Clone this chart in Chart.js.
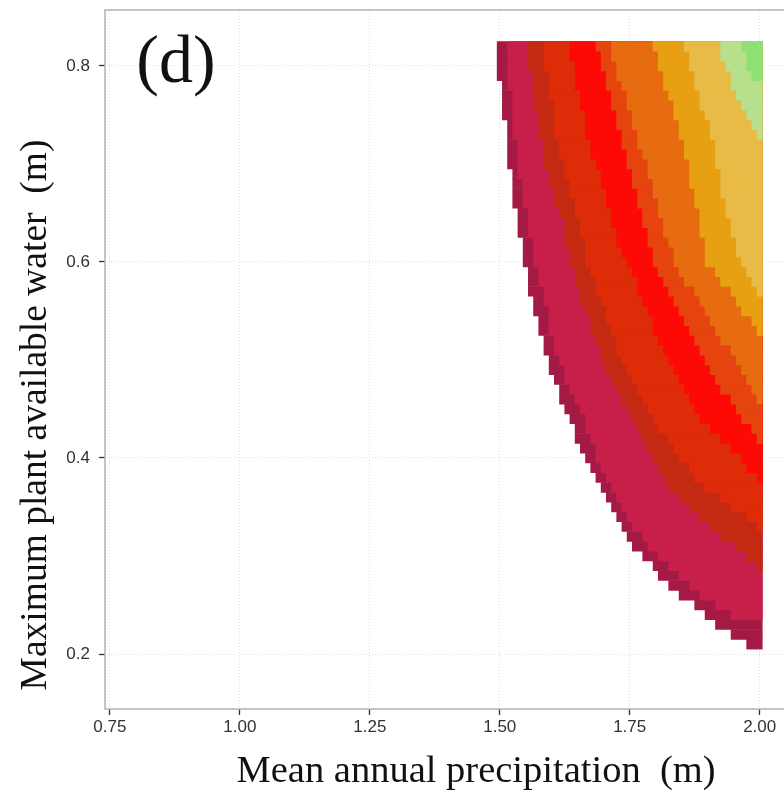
<!DOCTYPE html>
<html>
<head>
<meta charset="utf-8">
<title>Mean annual precipitation vs plant available water</title>
<script src="https://cdn.jsdelivr.net/npm/chart.js@4.4.1/dist/chart.umd.min.js"></script>
<style>
  html, body { margin: 0; padding: 0; background: #fff; overflow: hidden; }
  #wrap { width: 860px; height: 802px; }
</style>
</head>
<body>
<div id="wrap"><canvas id="panel" width="860" height="802"></canvas></div>
<script>
'use strict';

// raster rows, plant available water (m), top row first
const rowsY = [0.82, 0.81, 0.80, 0.79, 0.78, 0.77, 0.76, 0.75, 0.74, 0.73,
  0.72, 0.71, 0.70, 0.69, 0.68, 0.67, 0.66, 0.65, 0.64, 0.63,
  0.62, 0.61, 0.60, 0.59, 0.58, 0.57, 0.56, 0.55, 0.54, 0.53,
  0.52, 0.51, 0.50, 0.49, 0.48, 0.47, 0.46, 0.45, 0.44, 0.43,
  0.42, 0.41, 0.40, 0.39, 0.38, 0.37, 0.36, 0.35, 0.34, 0.33,
  0.32, 0.31, 0.30, 0.29, 0.28, 0.27, 0.26, 0.25, 0.24, 0.23,
  0.22, 0.21];

const xTicks = [0.75, 1.00, 1.25, 1.50, 1.75, 2.00];
const yTicks = [0.2, 0.4, 0.6, 0.8];

// first precipitation cell (m) of each colour class, row by row from the top.
// a shorter list means the class has run off the right edge below that row
const startDarkCrimson = [1.50, 1.50, 1.50, 1.50, 1.51, 1.51, 1.51, 1.51, 1.52, 1.52,
  1.52, 1.52, 1.52, 1.53, 1.53, 1.53, 1.53, 1.54, 1.54, 1.54,
  1.55, 1.55, 1.55, 1.56, 1.56, 1.56, 1.57, 1.57, 1.58, 1.58,
  1.59, 1.59, 1.60, 1.60, 1.61, 1.62, 1.62, 1.63, 1.64, 1.65,
  1.65, 1.66, 1.67, 1.68, 1.69, 1.70, 1.71, 1.72, 1.73, 1.74,
  1.75, 1.76, 1.78, 1.80, 1.81, 1.83, 1.85, 1.88, 1.90, 1.92,
  1.95, 1.98];
const startCrimson = [1.52, 1.52, 1.52, 1.52, 1.52, 1.53, 1.53, 1.53, 1.53, 1.53,
  1.54, 1.54, 1.54, 1.54, 1.55, 1.55, 1.55, 1.56, 1.56, 1.56,
  1.57, 1.57, 1.57, 1.58, 1.58, 1.59, 1.59, 1.60, 1.60, 1.60,
  1.61, 1.61, 1.62, 1.63, 1.63, 1.64, 1.65, 1.66, 1.67, 1.67,
  1.68, 1.69, 1.69, 1.70, 1.71, 1.72, 1.73, 1.74, 1.75, 1.76,
  1.78, 1.79, 1.81, 1.83, 1.85, 1.87, 1.89, 1.92, 1.95];
const startDarkRed = [1.56, 1.56, 1.56, 1.57, 1.57, 1.57, 1.57, 1.58, 1.58, 1.58,
  1.59, 1.59, 1.59, 1.60, 1.60, 1.61, 1.61, 1.62, 1.63, 1.63,
  1.63, 1.64, 1.64, 1.65, 1.65, 1.66, 1.66, 1.67, 1.68, 1.68,
  1.69, 1.70, 1.70, 1.71, 1.72, 1.73, 1.74, 1.75, 1.76, 1.77,
  1.78, 1.79, 1.80, 1.81, 1.82, 1.83, 1.85, 1.87, 1.89, 1.91,
  1.93, 1.96, 1.98, 2.00];
const startScarlet = [1.59, 1.59, 1.59, 1.60, 1.60, 1.60, 1.61, 1.61, 1.61, 1.61,
  1.62, 1.62, 1.63, 1.63, 1.64, 1.64, 1.65, 1.65, 1.66, 1.66,
  1.67, 1.67, 1.67, 1.68, 1.69, 1.69, 1.70, 1.71, 1.71, 1.72,
  1.73, 1.73, 1.74, 1.75, 1.76, 1.77, 1.78, 1.79, 1.80, 1.81,
  1.83, 1.84, 1.85, 1.87, 1.88, 1.90, 1.93, 1.95, 1.98, 2.00];
const startRed = [1.64, 1.64, 1.65, 1.65, 1.65, 1.66, 1.66, 1.67, 1.67, 1.67,
  1.68, 1.68, 1.69, 1.70, 1.70, 1.71, 1.71, 1.72, 1.72, 1.73,
  1.73, 1.74, 1.75, 1.76, 1.77, 1.77, 1.78, 1.79, 1.80, 1.80,
  1.81, 1.82, 1.83, 1.84, 1.85, 1.86, 1.87, 1.88, 1.89, 1.91,
  1.93, 1.95, 1.97, 1.98, 2.00];
const startVermilion = [1.69, 1.70, 1.70, 1.71, 1.71, 1.72, 1.72, 1.73, 1.73, 1.74,
  1.74, 1.75, 1.75, 1.76, 1.76, 1.77, 1.77, 1.78, 1.78, 1.79,
  1.79, 1.80, 1.80, 1.81, 1.82, 1.83, 1.84, 1.85, 1.86, 1.87,
  1.88, 1.89, 1.90, 1.91, 1.92, 1.93, 1.95, 1.96, 1.97, 1.99,
  2.00];
const startOrange = [1.72, 1.72, 1.73, 1.73, 1.74, 1.75, 1.75, 1.76, 1.76, 1.77,
  1.77, 1.78, 1.79, 1.79, 1.80, 1.80, 1.81, 1.81, 1.82, 1.82,
  1.83, 1.84, 1.84, 1.85, 1.86, 1.88, 1.89, 1.90, 1.91, 1.92,
  1.93, 1.95, 1.96, 1.97, 1.98, 1.99, 2.00];
const startAmber = [1.80, 1.81, 1.81, 1.82, 1.82, 1.83, 1.84, 1.84, 1.85, 1.85,
  1.86, 1.86, 1.87, 1.87, 1.87, 1.88, 1.88, 1.89, 1.89, 1.89,
  1.90, 1.90, 1.90, 1.92, 1.93, 1.95, 1.96, 1.97, 1.99, 2.00];
const startGold = [1.86, 1.87, 1.87, 1.88, 1.88, 1.89, 1.89, 1.90, 1.91, 1.91,
  1.92, 1.92, 1.92, 1.93, 1.93, 1.93, 1.94, 1.94, 1.95, 1.95,
  1.96, 1.96, 1.97, 1.98, 1.99, 2.00];
const startPaleGreen = [1.93, 1.93, 1.94, 1.95, 1.95, 1.96, 1.97, 1.98, 1.99, 2.00];
const startGreen = [1.97, 1.98, 1.98, 1.99];

const bandStarts = [startDarkCrimson, startCrimson, startDarkRed, startScarlet, startRed,
  startVermilion, startOrange, startAmber, startGold, startPaleGreen, startGreen];
const bandColors = ['#a51a44', '#c81e4a', '#c42a12', '#de2c08', '#fe0a06',
  '#e5440e', '#e76c10', '#e6a012', '#e7bb45', '#b7e08c', '#8fe072'];

const cellW = 0.01;
const xEdge = 2.00 + cellW / 2;

// each class is a floating bar per row from its first cell to the right edge;
// later classes sit on top of earlier ones
const datasets = bandStarts.map((starts, k) => ({
    label: 'class ' + k,
    data: starts.map((x0, i) => ({ x: [x0 - cellW / 2, xEdge], y: rowsY[i] })),
    backgroundColor: bandColors[k],
    borderWidth: 0,
    grouped: false,
    barPercentage: 1,
    categoryPercentage: 1,
    order: bandStarts.length - k,
}));

const serif = '"Liberation Serif", "DejaVu Serif", serif';
const sans = '"Liberation Sans", Arial, sans-serif';

// box round the panel, y title and panel letter
const panelDecor = {
    id: 'panelDecor',
    afterDraw(chart) {
        const { ctx, chartArea: a } = chart;
        ctx.save();
        ctx.strokeStyle = '#b3b3b3';
        ctx.lineWidth = 1.5;
        ctx.strokeRect(a.left, a.top, a.right - a.left, a.bottom - a.top);

        ctx.fillStyle = '#111';
        ctx.textAlign = 'center';
        ctx.textBaseline = 'middle';
        ctx.font = '68px ' + serif;
        ctx.fillText('(d)', 176, 64);

        ctx.translate(36, 415);
        ctx.rotate(-Math.PI / 2);
        ctx.font = '37.5px ' + serif;
        ctx.fillText('Maximum plant available water  (m)', 0, 0);
        ctx.restore();
    },
};

const gridStyle = {
    color: '#dedede',
    lineWidth: 1,
    tickColor: '#333',
    tickWidth: 1.3,
    tickLength: 6,
    offset: false,
};

new Chart(document.getElementById('panel'), {
    type: 'bar',
    data: { datasets },
    options: {
        indexAxis: 'y',
        responsive: false,
        animation: false,
        events: [],
        layout: { padding: { top: 10, right: 13, left: 0, bottom: 0 } },
        plugins: {
            legend: { display: false },
            tooltip: { enabled: false },
        },
        scales: {
            x: {
                type: 'linear',
                min: 0.7406,
                max: 2.168,
                grid: gridStyle,
                border: { display: false, dash: [1, 2] },
                afterBuildTicks: scale => { scale.ticks = xTicks.map(value => ({ value })); },
                afterFit: scale => {
                    scale.height = 93;
                    scale.paddingLeft = 0;
                    scale.paddingRight = 0;
                },
                ticks: {
                    color: '#333',
                    padding: 2,
                    font: { family: sans, size: 17 },
                    callback: v => v.toFixed(2),
                },
                title: {
                    display: true,
                    text: 'Mean annual precipitation  (m)',
                    color: '#111',
                    font: { family: serif, size: 38.5 },
                    padding: { top: 0, bottom: 7 },
                },
            },
            y: {
                type: 'linear',
                min: 0.1439,
                max: 0.8571,
                offset: false,
                grid: gridStyle,
                border: { display: false, dash: [1, 2] },
                afterBuildTicks: scale => { scale.ticks = yTicks.map(value => ({ value })); },
                afterFit: scale => {
                    scale.width = 105;
                    scale.paddingTop = 0;
                    scale.paddingBottom = 0;
                },
                ticks: {
                    color: '#333',
                    padding: 9,
                    font: { family: sans, size: 17 },
                    callback: v => v.toFixed(1),
                },
            },
        },
    },
    plugins: [panelDecor],
});
</script>
</body>
</html>
